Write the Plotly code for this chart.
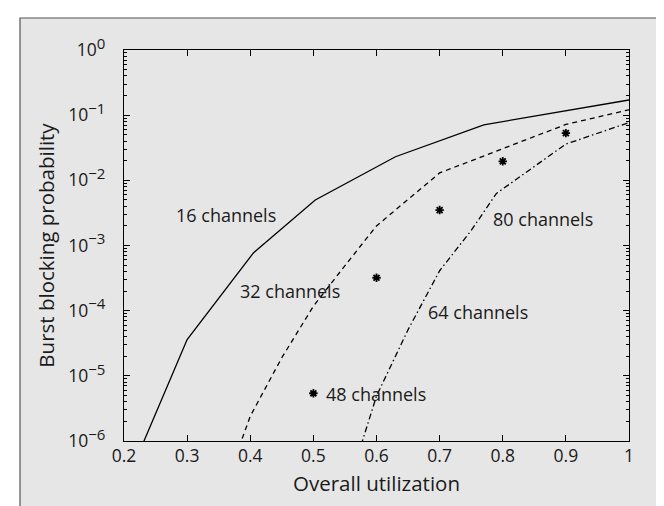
import plotly.graph_objects as go

# 16 channels (solid)
x16 = [0.2, 0.3, 0.405, 0.503, 0.63, 0.77, 1.0]
y16 = [1.9e-7, 3.6e-5, 7.7e-4, 5.0e-3, 0.023, 0.071, 0.171]

# 32 channels (dashed)
x32 = [0.3, 0.385, 0.4, 0.45, 0.5, 0.55, 0.6, 0.7, 0.8, 0.9, 1.0]
y32 = [5e-9, 1.0e-6, 2.4e-6, 1.9e-5, 1.17e-4, 4.9e-4, 2.0e-3, 0.013, 0.031, 0.072, 0.121]

# 48 channels (asterisk markers)
x48 = [0.5, 0.6, 0.7, 0.8, 0.9]
y48 = [5.4e-6, 3.2e-4, 3.5e-3, 0.0196, 0.053]

# 64/80 channels (dash-dot)
x64 = [0.55, 0.577, 0.6, 0.65, 0.7, 0.75, 0.79, 0.9, 1.0]
y64 = [1.4e-7, 1.0e-6, 4.9e-6, 5.1e-5, 4.1e-4, 1.7e-3, 6.3e-3, 0.036, 0.077]

labels = ["16 channels", "32 channels", "48 channels", "64 channels", "80 channels"]
label_x = [0.361, 0.4627, 0.5994, 0.760, 0.863]
label_logy = [-2.533, -3.697, -5.275, -4.019, -2.594]

xticks = [0.2, 0.3, 0.4, 0.5, 0.6, 0.7, 0.8, 0.9, 1]
xticktext = ["0.2", "0.3", "0.4", "0.5", "0.6", "0.7", "0.8", "0.9", "1"]
ytickvals = [1e0, 1e-1, 1e-2, 1e-3, 1e-4, 1e-5, 1e-6]
yexp = ["0", "−1", "−2", "−3", "−4", "−5", "−6"]
yticktext = ["10<sup><span style='font-size:15px'>%s</span></sup>" % e for e in yexp]

TXT = "#1a1a1a"
FONT = "Open Sans"

fig = go.Figure()
fig.add_trace(go.Scatter(x=x16, y=y16, mode="lines",
                         line=dict(color="black", width=1.3, dash="solid"),
                         showlegend=False, hoverinfo="skip"))
fig.add_trace(go.Scatter(x=x32, y=y32, mode="lines",
                         line=dict(color="black", width=1.3, dash="5px,4px"),
                         showlegend=False, hoverinfo="skip"))
fig.add_trace(go.Scatter(x=x64, y=y64, mode="lines",
                         line=dict(color="black", width=1.3, dash="6px,3px,1.5px,3px"),
                         showlegend=False, hoverinfo="skip"))
fig.add_trace(go.Scatter(x=x48, y=y48, mode="markers",
                         marker=dict(symbol="asterisk-open", size=7, color="black",
                                     line=dict(color="black", width=1.8)),
                         showlegend=False, hoverinfo="skip"))

W, H = 664, 506
L, R, T, B = 116, 43, 42, 73
pw, ph = W - L - R, H - T - B


def px2paper_x(px):
    return (px - L) / pw


def px2paper_y(py):
    return (H - B - py) / ph


fig.add_shape(type="rect", xref="paper", yref="paper",
              x0=px2paper_x(12), x1=px2paper_x(657),
              y0=px2paper_y(520), y1=px2paper_y(10),
              fillcolor="#e6e6e6", line=dict(color="#555555", width=1.2),
              layer="below")

for t, lx, ly in zip(labels, label_x, label_logy):
    fig.add_annotation(x=lx, y=ly, text=t, showarrow=False,
                       font=dict(family=FONT, size=18, color=TXT),
                       xanchor="center", yanchor="middle")

axis_common = dict(showline=True, linecolor="black", linewidth=1.2,
                   mirror="allticks", ticks="inside", tickcolor="black",
                   showgrid=False, zeroline=False,
                   tickfont=dict(family=FONT, size=17.5, color=TXT))

fig.update_xaxes(range=[0.2, 1.0], tickvals=xticks, ticktext=xticktext,
                 ticklen=6, tickwidth=1.2, ticklabelstandoff=-1,
                 title=dict(text="Overall utilization",
                            font=dict(family=FONT, size=20.5, color=TXT),
                            standoff=10),
                 **axis_common)
fig.update_yaxes(type="log", range=[-6, 0], tickvals=ytickvals, ticktext=yticktext,
                 ticklen=6, tickwidth=1.2, ticklabelstandoff=14,
                 minor=dict(ticks="inside", ticklen=3, tickcolor="black", tickwidth=1,
                            dtick="D1", showgrid=False),
                 title=dict(text="Burst blocking probability",
                            font=dict(family=FONT, size=20.5, color=TXT),
                            standoff=8),
                 **axis_common)

fig.update_layout(width=W, height=H, margin=dict(l=L, r=R, t=T, b=B),
                  paper_bgcolor="white", plot_bgcolor="#edf0f0",
                  font=dict(family=FONT))

fig.write_html("out.html")
